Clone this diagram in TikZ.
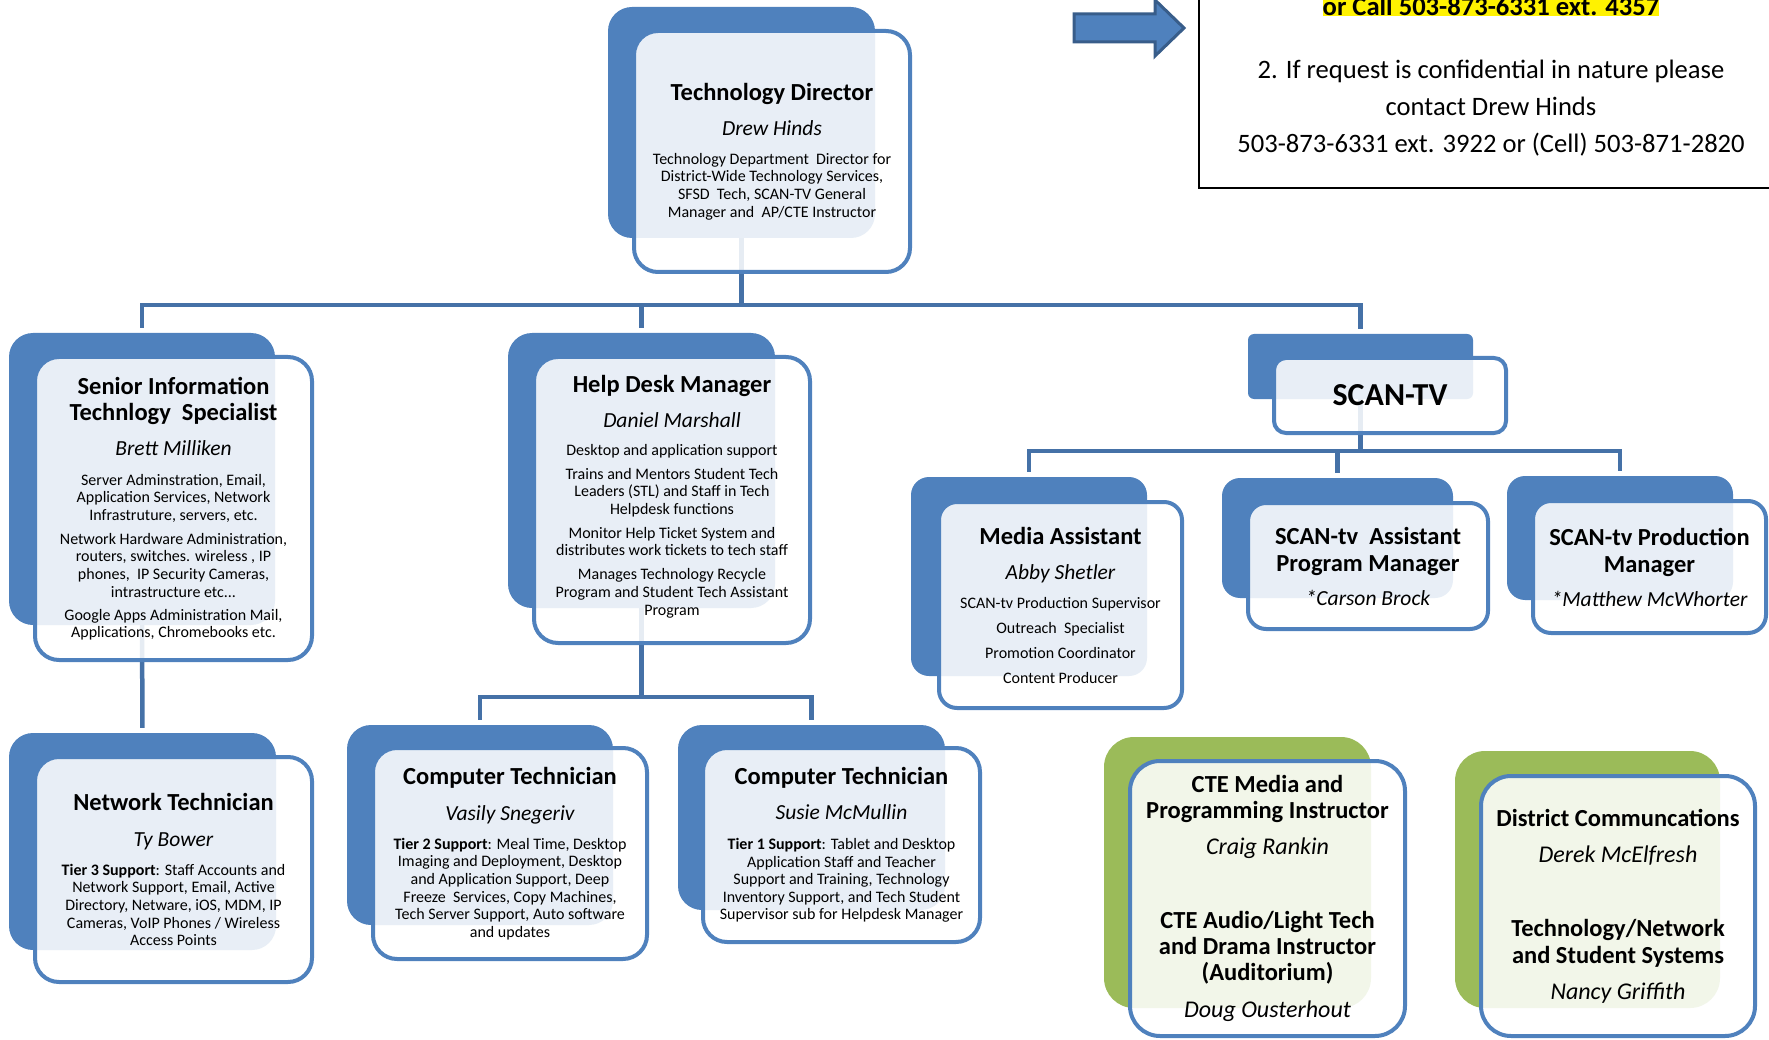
\documentclass[tikz,border=0pt]{standalone}
\usepackage{fontspec}
\setmainfont{Carlito}

\definecolor{boxblue}{HTML}{4F81BD}
\definecolor{linkblue}{HTML}{4571A7}
\definecolor{boxgreen}{HTML}{9BBB59}
\definecolor{arrowedge}{HTML}{385D8A}

\setlength{\fboxsep}{0pt}
\newcommand{\ttl}{\fontsize{24.5}{26}\selectfont\bfseries}
\newcommand{\nm}{\fontsize{21.5}{24}\selectfont\itshape}
\newcommand{\nmg}{\fontsize{24}{26}\selectfont\itshape}
\newcommand{\dsc}{\fontsize{16}{17.6}\selectfont\lineskiplimit=-100pt\relax}
\newcommand{\notefont}{\fontsize{26.6}{37}\selectfont\lineskiplimit=-100pt\relax}
\newcommand{\hilite}[1]{{\setlength{\fboxsep}{0pt}\colorbox{yellow}{#1}}}

\tikzset{
  backbox/.style={fill=boxblue, rounded corners=24pt, inner sep=0pt},
  greenback/.style={backbox, fill=boxgreen, rounded corners=30pt},
  frontbox/.style={draw=boxblue, line width=4pt, fill=white, fill opacity=0.87,
    text opacity=1, rounded corners=24pt, inner sep=0pt, align=center, font=\dsc},
  greenfront/.style={frontbox, rounded corners=30pt},
  link/.style={draw=linkblue, line width=4.5pt, shorten >=5pt},
  notebox/.style={draw=black, line width=2pt, inner sep=0pt, align=center, font=\notefont},
  blockarrow/.style={fill=boxblue, draw=arrowedge, line width=3pt, line join=miter},
}

\begin{document}
\begin{tikzpicture}[x=1pt, y=-1pt]

\path[use as bounding box, clip] (0,0) rectangle (1769,1040);

% -------- back boxes -----------
\node[backbox, minimum width=267pt, minimum height=231pt] (tdback) at (741.5,122.5) {};
\node[backbox, minimum width=266pt, minimum height=292pt] (sitback) at (142,479) {};
\node[backbox, minimum width=267pt, minimum height=275pt] (hdmback) at (641.5,470.5) {};
\node[backbox, rounded corners=6pt, minimum width=225pt, minimum height=65pt] (scanback) at (1360.5,366.5) {};
\node[backbox, rounded corners=18pt, minimum width=236pt, minimum height=199pt] (maback) at (1029,576.5) {};
\node[backbox, rounded corners=18pt, minimum width=231pt, minimum height=120pt] (apmback) at (1337.5,538) {};
\node[backbox, rounded corners=18pt, minimum width=226pt, minimum height=124pt] (pmback) at (1620,538) {};
\node[backbox, minimum width=267pt, minimum height=217pt] (ntback) at (142.5,841.5) {};
\node[backbox, minimum width=266pt, minimum height=200pt] (ctwoback) at (480,825) {};
\node[backbox, minimum width=267pt, minimum height=185pt] (coneback) at (811.5,817.5) {};
\node[greenback, minimum width=267pt, minimum height=271pt] (cteback) at (1237.5,872.5) {};
\node[greenback, minimum width=265pt, minimum height=257pt] (dcback) at (1587.5,879.5) {};

% -------- links -----------
\draw[link] (tdback.south) -- ++(0,67) -| (sitback.north);
\draw[link] (tdback.south) -- ++(0,67) -| (hdmback.north);
\draw[link] (tdback.south) -- ++(0,67) -| (scanback.north);
\draw[link] (sitback.south) -- (ntback.north);
\draw[link] (hdmback.south) -- ++(0,89) -| (ctwoback.north);
\draw[link] (hdmback.south) -- ++(0,89) -| (coneback.north);
\draw[link] (scanback.south) -- ++(0,52) -| (maback.north);
\draw[link] (scanback.south) -- ++(0,52) -| (apmback.north);
\draw[link] (scanback.south) -- ++(0,52) -| (pmback.north);

% -------- front boxes -----------
\node[frontbox, minimum width=276pt, minimum height=241pt] (td) at (772,151.5)
  {{\ttl Technology Director}\\[17.4pt]{\nm Drew Hinds}\\[11.4pt]
   Technology Department\ \ Director for\\District-Wide Technology Services,\\
   SFSD\ \ Tech, SCAN-TV General\\Manager and\ \ AP/CTE Instructor};

\node[frontbox, minimum width=277pt, minimum height=303pt] (sit) at (173.5,508.5)
  {{\ttl Senior Information}\\[8.4pt]{\ttl Technlogy\ \ Specialist}\\[17.4pt]
   {\nm Brett Milliken}\\[12.4pt]
   Server Adminstration, Email,\\Application Services, Network\\Infrastruture, servers, etc.\\[6.4pt]
   Network Hardware Administration,\\routers, switches. wireless , IP\\
   phones,\ \ IP Security Cameras,\\intrastructure etc...\\[5.4pt]
   Google Apps Administration Mail,\\Applications, Chromebooks etc.};

\node[frontbox, minimum width=276pt, minimum height=286pt] (hdm) at (672,500)
  {{\ttl Help Desk Manager}\\[17.4pt]{\nm Daniel Marshall}\\[10pt]
   Desktop and application support\\[6.4pt]
   Trains and Mentors Student Tech\\Leaders (STL) and Staff in Tech\\Helpdesk functions\\[6.4pt]
   Monitor Help Ticket System and\\distributes work tickets to tech staff\\[6.4pt]
   Manages Technology Recycle\\Program and Student Tech Assistant\\Program\\[-8pt]};

\node[frontbox, rounded corners=12pt, minimum width=232pt, minimum height=75pt] (scan) at (1390,395.5)
  {\fontsize{32}{36}\selectfont\bfseries SCAN-TV};

\node[frontbox, rounded corners=18pt, minimum width=243pt, minimum height=206pt] (ma) at (1060.5,605)
  {{\ttl Media Assistant}\\[17.4pt]{\nm Abby Shetler}\\[11.4pt]
   SCAN-tv Production Supervisor\\[7.4pt]Outreach\ \ Specialist\\[7.4pt]
   Promotion Coordinator\\[7.4pt]Content Producer};

\node[frontbox, rounded corners=18pt, minimum width=240pt, minimum height=126pt] (apm) at (1368,566)
  {{\ttl SCAN-tv\ \ Assistant}\\[9.4pt]{\ttl Program Manager}\\[16.4pt]{\nm *Carson Brock}};

\node[frontbox, rounded corners=18pt, minimum width=233pt, minimum height=132pt] (pm) at (1649.5,567)
  {{\ttl SCAN-tv Production}\\[9.4pt]{\ttl Manager}\\[16.4pt]{\nm *Matthew McWhorter}};

\node[frontbox, minimum width=277pt, minimum height=225pt] (nt) at (173.5,869.5)
  {{\ttl Network Technician}\\[18.4pt]{\nm Ty Bower}\\[11.4pt]
   \textbf{Tier 3 Support}: Staff Accounts and\\Network Support, Email, Active\\
   Directory, Netware, iOS, MDM, IP\\Cameras, VoIP Phones / Wireless\\Access Points};

\node[frontbox, minimum width=274pt, minimum height=211pt] (ctwo) at (510,853.5)
  {{\ttl Computer Technician}\\[18.4pt]{\nm Vasily Snegeriv}\\[11.4pt]
   \textbf{Tier 2 Support}: Meal Time, Desktop\\Imaging and Deployment, Desktop\\
   and Application Support, Deep\\Freeze\ \ Services, Copy Machines,\\
   Tech Server Support, Auto software\\and updates};

\node[frontbox, minimum width=277pt, minimum height=194pt] (cone) at (841.5,845)
  {{\ttl Computer Technician}\\[17.4pt]{\nm Susie McMullin}\\[12.4pt]
   \textbf{Tier 1 Support}: Tablet and Desktop\\Application Staff and Teacher\\
   Support and Training, Technology\\Inventory Support, and Tech Student\\
   Supervisor sub for Helpdesk Manager};

\node[greenfront, minimum width=275pt, minimum height=275pt] (cte) at (1267.5,898.5)
  {{\ttl CTE Media and}\\[8.4pt]{\ttl Programming Instructor}\\[18.4pt]{\nmg Craig Rankin}\\[56.4pt]
   {\ttl CTE Audio/Light Tech}\\[8.4pt]{\ttl and Drama Instructor}\\[8.4pt]{\ttl (Auditorium)}\\[19.4pt]
   {\nmg Doug Ousterhout}};

\node[greenfront, minimum width=274pt, minimum height=260pt] (dc) at (1618,906)
  {{\ttl District Communcations}\\[18.4pt]{\nmg Derek McElfresh}\\[56.4pt]
   {\ttl Technology/Network}\\[9.4pt]{\ttl and Student Systems}\\[18.4pt]{\nmg Nancy Griffith}};

% -------- note at top right -----------
\node[notebox, minimum width=584pt, minimum height=223pt] (note) at (1491,76.5)
  {\hilite{\bfseries or Call 503-873-6331 ext. 4357}\\[26pt]
   2. If request is confidential in nature please\\contact Drew Hinds\\
   503-873-6331 ext. 3922 or (Cell) 503-871-2820};

\draw[blockarrow] (1074,14) -- (1155,14) -- (1155,0) -- (1184,28) -- (1155,56)
  -- (1155,42) -- (1074,42) -- cycle;

\end{tikzpicture}
\end{document}
